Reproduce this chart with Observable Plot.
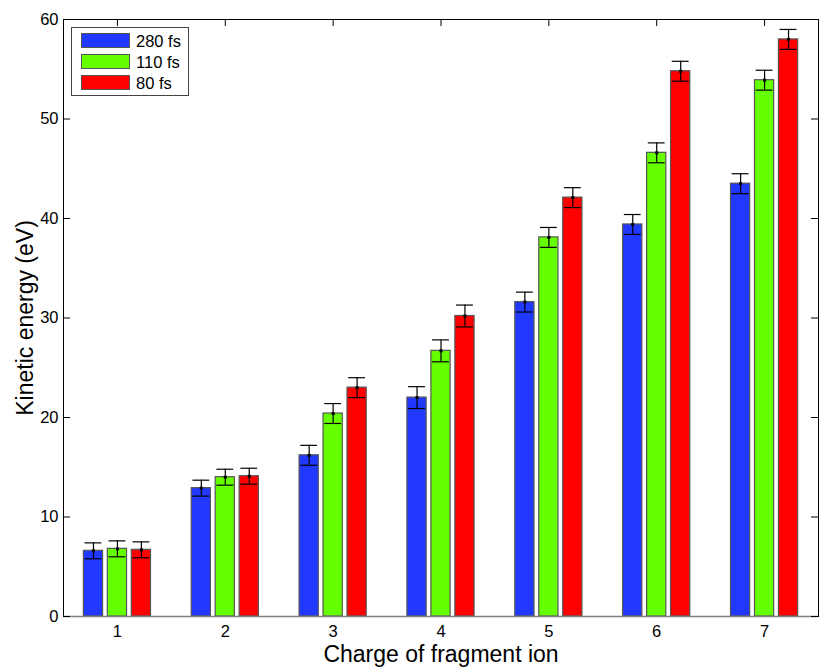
<!DOCTYPE html>
<html>
<head>
<meta charset="utf-8">
<script src="https://cdn.jsdelivr.net/npm/d3@7"></script>
<script src="https://cdn.jsdelivr.net/npm/@observablehq/plot@0.6"></script>
<style>
  html, body { margin: 0; padding: 0; background: #fff; }
  #wrap { position: relative; width: 830px; height: 671px; font-family: "Liberation Sans", Arial, sans-serif; }
  #legend { position: absolute; left: 71px; top: 27px; width: 118px; height: 69px; box-sizing: border-box;
            border: 1px solid #444; background: #fff; }
  .row { position: absolute; left: 9px; height: 16px; display: flex; align-items: center; }
  .sw { width: 49px; height: 15px; box-sizing: border-box; border: 1px solid #555; }
  .lab { margin-left: 6px; font-size: 16.5px; color: #000; line-height: 16px; }
</style>
</head>
<body>
<div id="wrap"><div id="chart"></div><div id="legend"></div></div>
<script>
// ---- data ----
const charges = [1, 2, 3, 4, 5, 6, 7];
const seriesNames = ["280 fs", "110 fs", "80 fs"];
const seriesColors = ["#2038ff", "#66ff00", "#ff0000"];
const energy280 = [6.6, 12.9, 16.2, 22.0, 31.6, 39.4, 43.5];
const energy110 = [6.8, 14.0, 20.4, 26.7, 38.1, 46.6, 53.9];
const energy80  = [6.7, 14.1, 23.0, 30.2, 42.1, 54.8, 58.0];
const err280 = [0.8, 0.8, 1.0, 1.1, 1.0, 1.0, 1.0];
const err110 = [0.8, 0.8, 1.0, 1.1, 1.0, 1.0, 1.0];
const err80  = [0.8, 0.8, 1.0, 1.1, 1.0, 1.0, 1.0];
const yTicks = [0, 10, 20, 30, 40, 50, 60];
const xLabel = "Charge of fragment ion";
const yLabel = "Kinetic energy (eV)";

// ---- build table ----
const values = [energy280, energy110, energy80];
const errs = [err280, err110, err80];
const groupOffsets = [-2 / 9, 0, 2 / 9];
const barWidth = 0.178;
const capHalf = 0.078;
const rows = [];
seriesNames.forEach((s, si) => {
  charges.forEach((c, ci) => {
    const center = c + groupOffsets[si];
    rows.push({series: s, charge: c, center, v: values[si][ci], e: errs[si][ci]});
  });
});

const W = 830, H = 671, mL = 63, mR = 12, mT = 19, mB = 55;
const plotW = W - mL - mR, plotH = H - mT - mB;
const tickLen = 7;
const tickFont = 16.5;

const chart = Plot.plot({
  width: W, height: H,
  marginLeft: mL, marginRight: mR, marginTop: mT, marginBottom: mB,
  style: {fontFamily: "Liberation Sans, Arial, sans-serif", fontSize: "16px", color: "#000", background: "#fff"},
  x: {type: "linear", domain: [0.5, 7.5], axis: null},
  y: {domain: [0, 60], axis: null},
  color: {domain: seriesNames, range: seriesColors},
  marks: [
    Plot.rectY(rows, {
      x1: d => d.center - barWidth / 2, x2: d => d.center + barWidth / 2,
      y1: 0, y2: "v", fill: "series", stroke: "#555", strokeWidth: 1.2
    }),
    Plot.ruleX(rows, {x: "center", y1: d => d.v - d.e, y2: d => d.v + d.e, stroke: "#000", strokeWidth: 1.2}),
    Plot.ruleY(rows, {y: d => d.v + d.e, x1: d => d.center - capHalf, x2: d => d.center + capHalf, stroke: "#000", strokeWidth: 1.2}),
    Plot.ruleY(rows, {y: d => d.v - d.e, x1: d => d.center - capHalf, x2: d => d.center + capHalf, stroke: "#000", strokeWidth: 1.2}),
    Plot.dot(rows, {x: "center", y: "v", r: 1.7, fill: "#000", symbol: "square"}),
    Plot.frame({stroke: "#000", strokeWidth: 1}),
    Plot.ruleY([0], {stroke: "#808080", strokeWidth: 1.5}),
    // inward ticks (left / right / top)
    Plot.ruleY(yTicks, {y: d => d, insetRight: plotW - tickLen, stroke: "#000"}),
    Plot.ruleY(yTicks, {y: d => d, insetLeft: plotW - tickLen, stroke: "#000"}),
    Plot.ruleX(charges, {x: d => d, insetBottom: plotH - tickLen, stroke: "#000"}),
    // tick labels
    Plot.text(yTicks, {y: d => d, text: d => String(d), frameAnchor: "left", textAnchor: "end", lineAnchor: "middle", dx: -5, fontSize: tickFont, fill: "#000"}),
    Plot.text(charges, {x: d => d, text: d => String(d), frameAnchor: "bottom", textAnchor: "middle", lineAnchor: "top", dy: 9, fontSize: tickFont, fill: "#000"}),
    // axis titles
    Plot.text([xLabel], {text: d => d, frameAnchor: "bottom", lineAnchor: "middle", textAnchor: "middle", dy: 38, fontSize: 23, fill: "#000"}),
    Plot.text([yLabel], {text: d => d, frameAnchor: "left", lineAnchor: "middle", textAnchor: "middle", rotate: -90, dx: -37.5, fontSize: 23, fill: "#000"})
  ]
});
document.getElementById("chart").appendChild(chart);

// ---- legend ----
const legend = document.getElementById("legend");
seriesNames.forEach((s, i) => {
  const row = document.createElement("div");
  row.className = "row";
  row.style.top = (4.5 + i * 21.2) + "px";
  const sw = document.createElement("div");
  sw.className = "sw";
  sw.style.background = seriesColors[i];
  const lab = document.createElement("span");
  lab.className = "lab";
  lab.textContent = s;
  row.appendChild(sw);
  row.appendChild(lab);
  legend.appendChild(row);
});
</script>
</body>
</html>
